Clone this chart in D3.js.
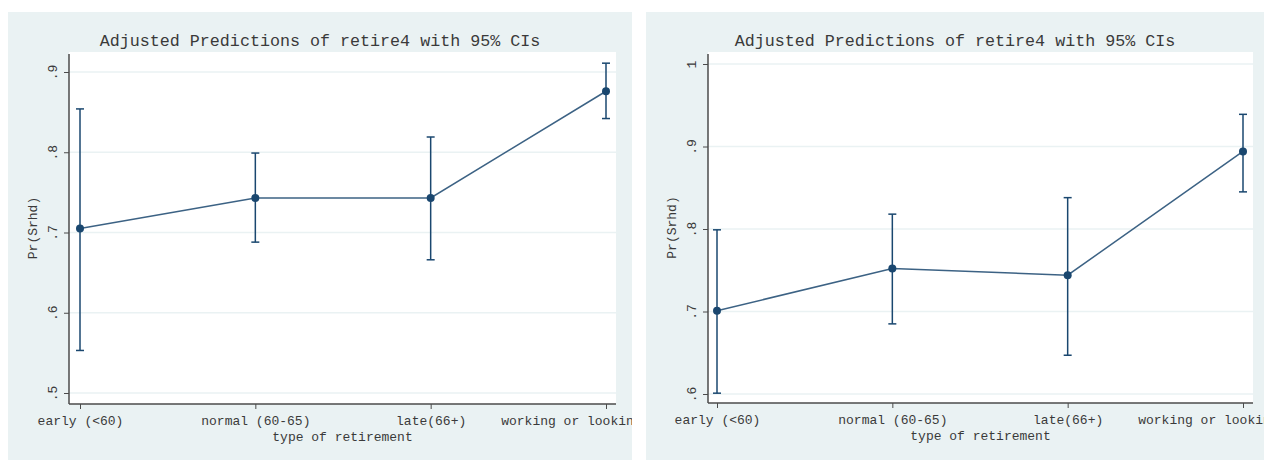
<!DOCTYPE html>
<html>
<head>
<meta charset="utf-8">
<script src="https://cdn.jsdelivr.net/npm/d3@7"></script>
<style>
  html, body { margin: 0; padding: 0; background: #ffffff; }
  svg { display: block; }
  text { font-family: "Liberation Mono", "DejaVu Sans Mono", monospace; fill: #3a3a3a; }
</style>
</head>
<body>
<svg id="chart" width="1269" height="460"></svg>
<script>
// Retirement categories shared by both panels
const categories = ["early (<60)", "normal (60-65)", "late(66+)", "working or looking for work"];

// Panel 1: predicted Pr(Srhd) with 95% CI bounds
const pred1 = [0.705, 0.743, 0.743, 0.876];
const lower1 = [0.553, 0.688, 0.666, 0.842];
const upper1 = [0.854, 0.799, 0.819, 0.911];
const ticks1 = [0.5, 0.6, 0.7, 0.8, 0.9];
const tickLabels1 = [".5", ".6", ".7", ".8", ".9"];

// Panel 2: predicted Pr(Srhd) with 95% CI bounds
const pred2 = [0.701, 0.752, 0.744, 0.894];
const lower2 = [0.601, 0.685, 0.647, 0.845];
const upper2 = [0.799, 0.818, 0.838, 0.939];
const ticks2 = [0.6, 0.7, 0.8, 0.9, 1.0];
const tickLabels2 = [".6", ".7", ".8", ".9", "1"];

const titleText = "Adjusted Predictions of retire4 with 95% CIs";
const xTitle = "type of retirement";
const yTitle = "Pr(Srhd)";

const navy = "#1a476f";
const regionFill = "#eaf2f3";
const gridColor = "#eaf2f3";
const axisColor = "#4b4b4b";

const svg = d3.select("#chart");

const panels = [
  {
    id: "p1",
    region: { x0: 8, x1: 632, y0: 12, y1: 460 },
    plot: { x0: 69, x1: 616, y0: 52, y1: 404 },
    xRange: [80, 606],
    yDomain: [0.5, 0.9], yRange: [393, 72],
    pred: pred1, lower: lower1, upper: upper1,
    ticks: ticks1, tickLabels: tickLabels1
  },
  {
    id: "p2",
    region: { x0: 646, x1: 1264, y0: 12, y1: 460 },
    plot: { x0: 708, x1: 1253, y0: 52, y1: 403 },
    xRange: [717, 1243],
    yDomain: [0.6, 1.0], yRange: [394, 64],
    pred: pred2, lower: lower2, upper: upper2,
    ticks: ticks2, tickLabels: tickLabels2
  }
];

const defs = svg.append("defs");

panels.forEach(p => {
  const r = p.region, pl = p.plot;

  defs.append("clipPath").attr("id", "clip-" + p.id)
    .append("rect")
    .attr("x", r.x0).attr("y", r.y0)
    .attr("width", r.x1 - r.x0).attr("height", r.y1 - r.y0);

  const g = svg.append("g").attr("clip-path", `url(#clip-${p.id})`);

  // graph region
  g.append("rect")
    .attr("x", r.x0).attr("y", r.y0)
    .attr("width", r.x1 - r.x0).attr("height", r.y1 - r.y0)
    .attr("fill", regionFill);

  // plot region
  g.append("rect")
    .attr("x", pl.x0).attr("y", pl.y0)
    .attr("width", pl.x1 - pl.x0).attr("height", pl.y1 - pl.y0)
    .attr("fill", "#ffffff");

  const x = d3.scaleLinear().domain([0, categories.length - 1]).range(p.xRange);
  const y = d3.scaleLinear().domain(p.yDomain).range(p.yRange);

  // horizontal grid lines
  g.append("g").selectAll("line").data(p.ticks).join("line")
    .attr("x1", pl.x0).attr("x2", pl.x1)
    .attr("y1", d => y(d)).attr("y2", d => y(d))
    .attr("stroke", gridColor).attr("stroke-width", 1.5);

  // y axis (ticks + rotated labels)
  const yAxis = d3.axisLeft(y)
    .tickValues(p.ticks)
    .tickFormat((d, i) => p.tickLabels[i])
    .tickSize(5)
    .tickPadding(0);
  const ya = g.append("g").attr("transform", `translate(${pl.x0},0)`).call(yAxis);
  ya.select(".domain").attr("d", `M0,${pl.y0 + 2}V${pl.y1}`)
    .attr("stroke", axisColor).attr("stroke-width", 1.5);
  ya.selectAll(".tick line").attr("stroke", axisColor).attr("stroke-width", 1);
  ya.selectAll(".tick text")
    .attr("x", null).attr("dy", null)
    .attr("transform", "translate(-12,0) rotate(-90)")
    .attr("text-anchor", "middle")
    .attr("font-size", 13)
    .attr("font-family", "Liberation Mono, DejaVu Sans Mono, monospace")
    .attr("fill", "#3a3a3a");

  // x axis (ticks + category labels)
  const xAxis = d3.axisBottom(x)
    .tickValues(d3.range(categories.length))
    .tickFormat(i => categories[i])
    .tickSize(5)
    .tickPadding(7);
  const xa = g.append("g").attr("transform", `translate(0,${pl.y1})`).call(xAxis);
  xa.select(".domain").attr("d", `M${pl.x0},0H${pl.x1}`)
    .attr("stroke", axisColor).attr("stroke-width", 1.5);
  xa.selectAll(".tick line").attr("stroke", axisColor).attr("stroke-width", 1);
  xa.selectAll(".tick text")
    .attr("font-size", 13)
    .attr("font-family", "Liberation Mono, DejaVu Sans Mono, monospace")
    .attr("fill", "#3a3a3a");

  // axis titles
  g.append("text")
    .attr("x", (pl.x0 + pl.x1) / 2).attr("y", pl.y1 + 37)
    .attr("text-anchor", "middle").attr("font-size", 13)
    .text(xTitle);
  g.append("text")
    .attr("transform", `translate(${pl.x0 - 32},${(pl.y0 + pl.y1) / 2}) rotate(-90)`)
    .attr("text-anchor", "middle").attr("font-size", 13)
    .text(yTitle);

  // chart title
  g.append("text")
    .attr("x", (r.x0 + r.x1) / 2).attr("y", 46)
    .attr("text-anchor", "middle").attr("font-size", 16.7)
    .attr("fill", "#404040")
    .text(titleText);

  const idx = d3.range(categories.length);

  // confidence interval bars with caps
  const ci = g.append("g").attr("stroke", navy).attr("stroke-width", 1.5);
  ci.selectAll("line.v").data(idx).join("line").attr("class", "v")
    .attr("x1", i => x(i)).attr("x2", i => x(i))
    .attr("y1", i => y(p.lower[i])).attr("y2", i => y(p.upper[i]));
  ci.selectAll("line.top").data(idx).join("line").attr("class", "top")
    .attr("x1", i => x(i) - 4).attr("x2", i => x(i) + 4)
    .attr("y1", i => y(p.upper[i])).attr("y2", i => y(p.upper[i]));
  ci.selectAll("line.bot").data(idx).join("line").attr("class", "bot")
    .attr("x1", i => x(i) - 4).attr("x2", i => x(i) + 4)
    .attr("y1", i => y(p.lower[i])).attr("y2", i => y(p.lower[i]));

  // connecting line
  g.append("path")
    .datum(idx)
    .attr("fill", "none")
    .attr("stroke", navy).attr("stroke-opacity", 0.85).attr("stroke-width", 1.5)
    .attr("d", d3.line().x(i => x(i)).y(i => y(p.pred[i])));

  // point estimates
  g.append("g").selectAll("circle").data(idx).join("circle")
    .attr("cx", i => x(i)).attr("cy", i => y(p.pred[i]))
    .attr("r", 4).attr("fill", navy);
});
</script>
</body>
</html>
